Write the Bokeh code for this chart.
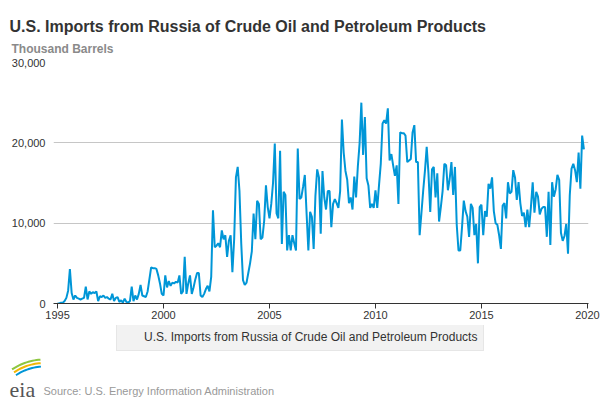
import math
from bokeh.plotting import figure
from bokeh.layouts import column
from bokeh.models import (Label, Legend, LegendItem, FixedTicker,
                          NumeralTickFormatter, Range1d)
from bokeh.embed import file_html
from bokeh.resources import INLINE

# ---------------- data (thousand barrels, monthly, Jan 1995 - Nov 2019) ----
TITLE = "U.S. Imports from Russia of Crude Oil and Petroleum Products"
UNITS = "Thousand Barrels"
SOURCE = "Source: U.S. Energy Information Administration"
SERIES_NAME = "U.S. Imports from Russia of Crude Oil and Petroleum Products"
START_YEAR = 1995
x_ticks = [1995, 2000, 2005, 2010, 2015, 2020]
y_ticks = [0, 10000, 20000, 30000]

imports_1995 = [0, 0, 100, 100, 300, 700, 1600, 4300, 1300, 500, 1000, 700]
imports_1996 = [600, 500, 600, 700, 2100, 500, 1500, 1200, 1400, 1300, 1500, 300]
imports_1997 = [900, 800, 1000, 700, 800, 600, 500, 1200, 300, 700, 800, 200]
imports_1998 = [400, 100, 600, 200, 100, 300, 2100, 300, 1000, 500, 1200, 2300]
imports_1999 = [1000, 900, 800, 1500, 3000, 4500, 4400, 4400, 4300, 3500, 2500, 1200]
imports_2000 = [1000, 3500, 2000, 2800, 2200, 2600, 2500, 2700, 2600, 3500, 1200, 1500]
imports_2001 = [5800, 1200, 2500, 3500, 1200, 2000, 3000, 3800, 3800, 1000, 800, 1200]
imports_2002 = [1800, 2200, 1500, 3300, 11600, 7000, 7200, 7500, 7000, 9100, 8000, 8500]
imports_2003 = [5800, 7800, 8500, 3900, 8000, 15700, 17000, 14000, 7500, 2900, 2300, 2600]
imports_2004 = [3800, 5000, 6500, 11200, 8000, 12800, 12400, 8000, 8200, 10300, 14700, 12000]
imports_2005 = [10600, 12400, 15000, 19900, 11200, 10600, 19000, 7400, 13900, 13500, 6600, 8500]
imports_2006 = [6600, 8500, 7500, 6600, 19300, 13000, 13200, 14500, 16000, 11200, 6600, 11400]
imports_2007 = [10800, 6800, 13400, 16700, 15700, 8700, 16500, 13200, 11700, 14000, 14000, 9500]
imports_2008 = [12400, 13000, 12500, 11900, 14000, 22900, 18800, 16500, 15400, 12500, 13200, 11700]
imports_2009 = [15800, 13200, 17000, 19900, 25000, 18500, 23200, 15600, 14700, 11900, 12400, 11900]
imports_2010 = [14100, 11900, 14700, 17400, 22400, 22800, 22400, 24300, 17800, 18600, 17200, 15900]
imports_2011 = [17200, 12400, 21300, 21200, 21200, 20900, 17600, 17800, 18000, 21300, 22200, 17600]
imports_2012 = [17600, 8500, 11200, 14000, 16500, 19500, 16200, 11400, 16700, 17000, 13200, 16200]
imports_2013 = [10200, 12000, 14000, 17400, 17200, 14100, 15500, 17600, 13500, 17000, 9800, 6600]
imports_2014 = [6600, 9500, 12800, 11500, 10800, 8300, 12400, 11900, 8500, 9900, 5000, 12000]
imports_2015 = [12300, 8500, 11500, 10800, 14900, 14300, 15700, 11500, 10000, 9800, 8500, 6800]
imports_2016 = [12200, 12500, 10600, 15100, 13700, 13900, 16600, 15700, 12900, 15100, 12500, 10900]
imports_2017 = [11300, 9500, 11700, 9500, 12000, 15100, 11300, 13900, 13300, 11100, 11800, 12000]
imports_2018 = [12000, 8300, 13900, 7300, 15100, 13300, 14200, 16000, 15400, 8800, 7800, 8400]
imports_2019 = [9900, 6200, 13500, 16800, 17400, 16600, 15100, 18800, 14300, 20900, 19200]

yearly = [imports_1995, imports_1996, imports_1997, imports_1998, imports_1999,
          imports_2000, imports_2001, imports_2002, imports_2003, imports_2004,
          imports_2005, imports_2006, imports_2007, imports_2008, imports_2009,
          imports_2010, imports_2011, imports_2012, imports_2013, imports_2014,
          imports_2015, imports_2016, imports_2017, imports_2018, imports_2019]
values = [v for year in yearly for v in year]
dates = [START_YEAR + i / 12 for i in range(len(values))]

# ---------------- styling ---------------------------------------------------
FONT = "Liberation Sans"
LINE_BLUE = "#0096d7"
W = 600


def blank_panel(height):
    f = figure(width=W, height=height, title=None,
               x_range=Range1d(0, W), y_range=Range1d(0, height),
               output_backend="svg", toolbar_location=None,
               x_axis_location=None, y_axis_location=None,
               min_border=0, min_border_left=0, min_border_right=0,
               min_border_top=0, min_border_bottom=0)
    f.frame_align = False
    f.grid.visible = False
    f.outline_line_color = None
    f.background_fill_color = "white"
    f.border_fill_color = "white"
    return f


def add_label(f, text, x, y, size, color, bold=False, font=FONT):
    f.add_layout(Label(x=x, y=y, text=text, text_font=font, text_font_size=size,
                       text_color=color, text_font_style="bold" if bold else "normal",
                       text_baseline="alphabetic", text_align="left"))


# ---------------- header ----------------------------------------------------
HEADER_H = 56
header = blank_panel(HEADER_H)
add_label(header, TITLE, 9, HEADER_H - 26, "16px", "#333333", bold=True)
add_label(header, UNITS, 11, HEADER_H - 48.5, "12px", "#8a8a8a", bold=True)

# ---------------- main chart ------------------------------------------------
p = figure(width=W, height=269, title=None,
           x_range=Range1d(1994.81, 2020.05), y_range=Range1d(0, 30000),
           output_backend="svg", toolbar_location=None,
           min_border_left=53, min_border_right=12,
           min_border_top=6, min_border_bottom=22)
p.frame_align = False
p.outline_line_color = None
p.background_fill_color = "white"
p.border_fill_color = "white"

r = p.line(dates, values, line_color=LINE_BLUE, line_width=2)

xa = p.xaxis[0]
xa.ticker = FixedTicker(ticks=x_ticks, minor_ticks=[])
xa.axis_line_color = "#333333"
xa.axis_line_width = 1
xa.major_tick_line_color = "#333333"
xa.major_tick_out = 5
xa.major_tick_in = 0
xa.minor_tick_line_color = None
xa.major_label_standoff = 2
xa.major_label_text_font = FONT
xa.major_label_text_font_size = "11px"
xa.major_label_text_color = "#333333"

ya = p.yaxis[0]
ya.ticker = FixedTicker(ticks=y_ticks, minor_ticks=[])
ya.formatter = NumeralTickFormatter(format="0,0")
ya.axis_line_color = None
ya.major_tick_line_color = None
ya.minor_tick_line_color = None
ya.major_tick_out = 0
ya.major_tick_in = 0
ya.major_label_standoff = 8
ya.major_label_text_font = FONT
ya.major_label_text_font_size = "11px"
ya.major_label_text_color = "#333333"

p.xgrid.grid_line_color = None
p.ygrid.ticker = FixedTicker(ticks=y_ticks)
p.ygrid.grid_line_color = "#c6c6c6"
p.ygrid.grid_line_width = 1

# ---------------- footer (legend, source, logo) -----------------------------
FOOTER_H = 74
footer = blank_panel(FOOTER_H)
sample = footer.line([], [], line_color=LINE_BLUE, line_width=2)
legend = Legend(items=[LegendItem(label=SERIES_NAME, renderers=[sample])],
                location=(116, 48), orientation="horizontal",
                padding=6, margin=0, spacing=0,
                glyph_width=14, glyph_height=13, label_height=13, label_standoff=7,
                label_text_font=FONT, label_text_font_size="12px",
                label_text_color="#333333",
                background_fill_color="#f2f2f2", background_fill_alpha=1,
                border_line_color="#d9d9d9", border_line_width=1)
footer.add_layout(legend)

add_label(footer, SOURCE, 43, 9, "11px", "#999999")

# eia logo: three coloured arcs above the letters
cx, cy = 44, FOOTER_H - 92
for r_in, r_out, col in [(50.0, 52.0, "#0096d7"), (53.5, 55.5, "#f2b705"), (57.0, 59.0, "#8dc63f")]:
    angs = [math.radians(a) for a in range(94, 125, 2)]
    xs = [cx + r_out * math.cos(a) for a in angs] + [cx + r_in * math.cos(a) for a in reversed(angs)]
    ys = [cy + r_out * math.sin(a) for a in angs] + [cy + r_in * math.sin(a) for a in reversed(angs)]
    footer.patch(xs, ys, fill_color=col, line_color=None)
add_label(footer, "eia", 9, 10, "22px", "#555555", font="Liberation Serif")

layout = column(header, p, footer, spacing=0)
open("out.html", "w").write(file_html(layout, INLINE))
